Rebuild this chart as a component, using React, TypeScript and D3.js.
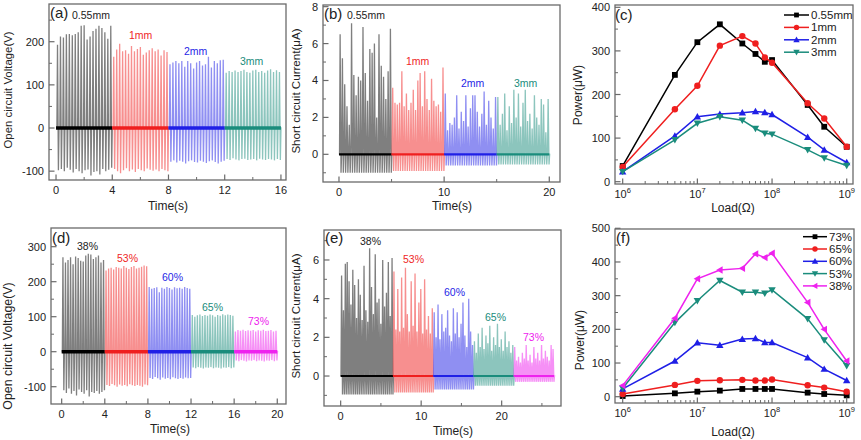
import React from "react";
import * as d3 from "d3";

const FONT = "'Liberation Sans', Arial, Helvetica, sans-serif";

// ---------- gap thickness series: (a) Voc, (b) Isc, (c) power ----------
const gapLabels = ["0.55mm", "1mm", "2mm", "3mm"];
const gapColors = ["#000000", "#ef1f1f", "#1f1fe6", "#1a8c7c"];

const gapVocSpans = [[0, 4], [4, 8], [8, 12], [12, 16]];
const gapVocPeaks = [
  [193, 212, 210, 217, 218, 215, 218, 222, 237, 238, 205, 212, 225, 230, 237, 232, 222, 207, 237],
  [165, 182, 195, 178, 180, 172, 190, 178, 183, 188, 170, 175, 180, 185, 178, 182, 168, 180, 176],
  [148, 152, 155, 150, 155, 142, 155, 150, 138, 152, 155, 145, 148, 165, 140, 155, 150, 157, 158],
  [128, 132, 130, 133, 130, 132, 135, 130, 128, 133, 135, 130, 132, 128, 133, 136, 130, 134, 130],
];
const gapVocTroughs = [
  [-98, -95, -100, -92, -97, -103, -95, -100, -105, -98, -96, -110, -102, -100, -108, -95, -100, -97, -92],
  [-95, -100, -105, -98, -93, -100, -96, -102, -95, -98, -100, -94, -97, -99, -96, -100, -95, -98, -100],
  [-78, -75, -80, -76, -78, -82, -77, -75, -79, -80, -76, -78, -81, -77, -75, -79, -82, -78, -76],
  [-72, -74, -70, -73, -75, -72, -71, -74, -73, -72, -75, -71, -73, -74, -72, -73, -75, -72, -74],
];

const gapIscSpans = [[0, 5], [5, 10], [10, 15], [15, 20]];
const gapIscPeaks = [
  [6.5, 5.2, 3.8, 2.6, 1.6, 7.1, 4.3, 3.2, 4.2, 4.0, 6.9, 4.4, 2.9, 5.7, 5.5, 6.0, 2.0, 6.5, 4.8, 4.2, 3.0, 4.5, 6.8],
  [3.6, 2.8, 2.7, 2.8, 4.5, 2.6, 3.3, 2.4, 2.8, 3.5, 2.4, 4.0, 4.4, 2.6, 4.5, 3.0, 2.4, 4.1, 2.9, 2.6, 2.7, 2.3, 4.7],
  [3.3, 1.3, 1.7, 1.6, 2.0, 3.2, 1.4, 2.3, 1.8, 3.2, 1.5, 2.5, 3.2, 3.2, 2.3, 1.5, 2.2, 3.4, 1.6, 2.9, 2.0, 1.4, 3.1],
  [3.1, 1.6, 2.2, 3.3, 1.3, 2.6, 1.7, 3.5, 2.0, 3.3, 1.5, 2.8, 3.5, 1.8, 2.2, 1.4, 3.2, 2.0, 1.6, 3.0, 2.7, 1.2, 3.0],
];
const gapIscTroughs = [-1.0, -0.9, -0.6, -0.55];

const loads = [1e6, 5e6, 1e7, 2e7, 4e7, 6e7, 8e7, 1e8, 3e8, 5e8, 1e9];
const gapPower = [
  [36, 245, 320, 361, 317, 293, 275, 279, 176, 126, 80],
  [34, 166, 220, 312, 334, 317, 285, 273, 180, 145, 80],
  [23, 105, 149, 155, 158, 161, 159, 154, 102, 73, 44],
  [23, 96, 134, 149, 141, 122, 111, 109, 73, 54, 37],
];
const gapMarkers = ["square", "circle", "up", "down"];

// ---------- porosity series: (d) Voc, (e) Isc ----------
const porLabels = ["38%", "53%", "60%", "65%", "73%"];
const porColors = ["#000000", "#ef1f1f", "#1f1fe6", "#1a8c7c", "#ee22ee"];

const porVocSpans = [[0, 4], [4, 8], [8, 12], [12, 16], [16, 20]];
const porVocPeaks = [
  [270, 255, 262, 270, 250, 272, 268, 260, 258, 275, 280, 278, 265, 270, 275, 255, 262],
  [232, 238, 240, 235, 242, 240, 238, 245, 240, 236, 242, 245, 238, 240, 243, 246, 244],
  [185, 180, 182, 184, 170, 183, 180, 185, 182, 178, 184, 181, 183, 180, 185, 182, 180],
  [105, 100, 104, 106, 102, 105, 103, 106, 104, 100, 105, 103, 107, 104, 106, 105, 103],
  [58, 62, 60, 63, 59, 61, 60, 62, 58, 61, 60, 63, 59, 60, 62, 58, 60],
];
const porVocTroughs = [
  [-110, -118, -105, -120, -112, -125, -108, -115, -120, -110, -128, -115, -118, -112, -120, -115, -110],
  [-95, -98, -92, -96, -100, -94, -97, -95, -99, -93, -96, -98, -95, -97, -100, -94, -96],
  [-75, -78, -72, -76, -80, -74, -77, -75, -79, -73, -76, -78, -75, -77, -74, -76, -75],
  [-45, -47, -44, -46, -48, -45, -46, -44, -47, -45, -46, -48, -45, -46, -44, -47, -45],
  [-25, -27, -24, -26, -28, -25, -26, -24, -27, -25, -26, -28, -25, -26, -24, -27, -25],
];

const porIscSpans = [[0, 6.5], [6.5, 11.5], [11.5, 16.5], [16.5, 21.5], [21.5, 26.5]];
const porIscPeaks = [
  [5.2, 3.4, 5.8, 5.9, 4.9, 3.7, 5.5, 4.7, 3.0, 5.0, 4.2, 2.9, 5.7, 3.4, 2.8, 6.6, 4.6, 3.2, 6.3, 3.8, 4.0, 2.7, 6.0, 3.6, 4.3, 5.9, 3.1, 6.1],
  [5.4, 2.4, 4.5, 2.3, 5.1, 2.5, 5.6, 3.2, 2.3, 4.9, 2.6, 5.3, 2.3, 3.8, 4.5, 2.2, 5.0, 2.4, 3.1, 2.2, 3.5],
  [3.3, 2.0, 3.7, 1.9, 3.2, 2.3, 2.5, 3.4, 2.1, 1.8, 3.5, 2.2, 3.3, 2.0, 2.7, 3.8, 2.1, 1.5, 4.0, 2.3, 1.6],
  [1.8, 1.2, 2.2, 1.5, 2.5, 1.4, 2.1, 1.7, 2.6, 1.3, 2.0, 1.6, 2.7, 1.5, 1.9, 1.3, 2.3, 1.5, 1.8, 1.2, 1.6],
  [1.5, 0.8, 1.0, 0.7, 1.2, 0.9, 1.6, 0.8, 1.1, 0.7, 1.5, 0.9, 1.2, 0.8, 1.6, 0.9, 1.3, 1.0, 0.8, 1.6, 1.4],
];
const porIscTroughs = [-0.95, -0.85, -0.7, -0.5, -0.3];

// ---------- (f) power vs load, legend order ----------
const porPowerLabels = ["73%", "65%", "60%", "53%", "38%"];
const porPowerColors = ["#000000", "#ef1f1f", "#1f1fe6", "#1a8c7c", "#ee22ee"];
const porPowerMarkers = ["square", "circle", "up", "down", "left"];
const porPower = [
  [2, 10, 15, 18, 23, 23, 23, 23, 12, 8, 4],
  [8, 35, 47, 49, 50, 48, 48, 51, 34, 27, 15],
  [23, 106, 160, 153, 171, 173, 161, 161, 116, 82, 48],
  [25, 220, 285, 345, 310, 310, 307, 317, 231, 168, 92],
  [33, 233, 350, 376, 381, 424, 413, 426, 280, 200, 106],
];

type Scale = (v: number) => number;

const Marker = ({ kind, cx, cy, color, s = 2.9 }: { kind: string; cx: number; cy: number; color: string; s?: number }) => {
  if (kind === "square") return <rect x={cx - s} y={cy - s} width={2 * s} height={2 * s} fill={color} />;
  if (kind === "circle") return <circle cx={cx} cy={cy} r={s + 0.3} fill={color} />;
  const t = s + 0.8;
  const tri: Record<string, [number, number][]> = {
    up: [[0, -t], [t, t * 0.75], [-t, t * 0.75]],
    down: [[0, t], [t, -t * 0.75], [-t, -t * 0.75]],
    left: [[-t, 0], [t * 0.75, -t], [t * 0.75, t]],
  };
  const pts = tri[kind].map(([dx, dy]) => `${cx + dx},${cy + dy}`).join(" ");
  return <polygon points={pts} fill={color} />;
};

// frame + inward ticks on bottom and left, Origin style
const Axes = ({
  box, x, y, xMajor, xMinor, yMajor, yMinor, logX, xTitle, yTitle, xTitlePos, yTitlePos, yTitleSize,
}: any) => {
  const [x0, y0, x1, y1] = box;
  const tickFont = 11;
  return (
    <g fontFamily={FONT} fill="#222">
      <rect x={x0} y={y0} width={x1 - x0} height={y1 - y0} fill="none" stroke="#6a6a6a" strokeWidth={1.3} />
      {xMinor.map((v: number, i: number) => (
        <line key={"xm" + i} x1={x(v)} x2={x(v)} y1={y1} y2={y1 - 3} stroke="#6a6a6a" strokeWidth={1} />
      ))}
      {xMajor.map((v: number, i: number) => (
        <g key={"xM" + i}>
          <line x1={x(v)} x2={x(v)} y1={y1} y2={y1 - 5.5} stroke="#6a6a6a" strokeWidth={1.2} />
          {logX ? (
            <text x={x(v)} y={y1 + 14} textAnchor="middle" fontSize={tickFont}>
              10<tspan fontSize={7.5} dy={-5}>{Math.round(Math.log10(v))}</tspan>
            </text>
          ) : (
            <text x={x(v)} y={y1 + 14} textAnchor="middle" fontSize={tickFont}>{v}</text>
          )}
        </g>
      ))}
      {yMinor.map((v: number, i: number) => (
        <line key={"ym" + i} x1={x0} x2={x0 + 3} y1={y(v)} y2={y(v)} stroke="#6a6a6a" strokeWidth={1} />
      ))}
      {yMajor.map((v: number, i: number) => (
        <g key={"yM" + i}>
          <line x1={x0} x2={x0 + 5.5} y1={y(v)} y2={y(v)} stroke="#6a6a6a" strokeWidth={1.2} />
          <text x={x0 - 5} y={y(v) + 4} textAnchor="end" fontSize={tickFont}>{v}</text>
        </g>
      ))}
      <text x={xTitlePos[0]} y={xTitlePos[1]} textAnchor="middle" fontSize={12}>{xTitle}</text>
      <text
        transform={`translate(${yTitlePos[0]},${yTitlePos[1]}) rotate(-90)`}
        textAnchor="middle"
        dy="0.35em"
        fontSize={yTitleSize || 11.6}
      >
        {yTitle}
      </text>
    </g>
  );
};

// pulse train: baseline at 0, each pulse rises to its peak and swings to its trough
const pulsePath = (x: Scale, y: Scale, span: number[], peaks: number[], troughs: number[] | number) => {
  const [t0, t1] = span;
  const step = (t1 - t0) / peaks.length;
  const pts: [number, number][] = [[x(t0), y(0)]];
  peaks.forEach((p, i) => {
    const px = x(t0 + step * (i + 0.5));
    const lo = Array.isArray(troughs) ? troughs[i] : troughs;
    pts.push([px - 0.6, y(0)], [px, y(p)], [px + 0.9, y(lo)], [px + 1.5, y(0)]);
  });
  pts.push([x(t1), y(0)]);
  return d3.line()(pts) as string;
};

const PulsePanel = ({ x, y, spans, peaks, troughs, colors, bandWidth }: any) => (
  <g>
    {spans.map((span: number[], i: number) => (
      <g key={i}>
        <path
          d={pulsePath(x, y, span, peaks[i], troughs[i])}
          fill="none"
          stroke={colors[i]}
          strokeOpacity={0.5}
          strokeWidth={1.3}
        />
        <line x1={x(span[0])} x2={x(span[1])} y1={y(0)} y2={y(0)} stroke={colors[i]} strokeWidth={bandWidth} />
      </g>
    ))}
  </g>
);

const PowerPanel = ({ x, y, series, colors, markers }: any) => {
  const line = d3.line<number>().x((_, i) => x(loads[i])).y((d) => y(d));
  return (
    <g>
      {series.map((s: number[], i: number) => (
        <g key={i}>
          <path d={line(s) as string} fill="none" stroke={colors[i]} strokeWidth={1.5} />
          {s.map((v, j) => (
            <Marker key={j} kind={markers[i]} cx={x(loads[j])} cy={y(v)} color={colors[i]} />
          ))}
        </g>
      ))}
    </g>
  );
};

const Legend = ({ labels, colors, markers, lx0, lx1, ty0, step }: any) => (
  <g fontFamily={FONT} fontSize={11.5}>
    {labels.map((lab: string, i: number) => {
      const yy = ty0 + i * step;
      return (
        <g key={lab}>
          <line x1={lx0} x2={lx1} y1={yy} y2={yy} stroke={colors[i]} strokeWidth={1.5} />
          <Marker kind={markers[i]} cx={(lx0 + lx1) / 2} cy={yy} color={colors[i]} s={2.4} />
          <text x={lx1 + 2} y={yy + 4} fill="#222">{lab}</text>
        </g>
      );
    })}
  </g>
);

const range = (a: number, b: number, s: number) => d3.range(a, b + s / 2, s);

export default function App() {
  // (a)
  const boxA = [49, 4, 286, 180];
  const xA = d3.scaleLinear().domain([-0.5, 16.36]).range([boxA[0], boxA[2]]);
  const yA = d3.scaleLinear().domain([-120.5, 287.4]).range([boxA[3], boxA[1]]);
  // (b)
  const boxB = [323, 5, 560, 182];
  const xB = d3.scaleLinear().domain([-1.52, 21.02]).range([boxB[0], boxB[2]]);
  const yB = d3.scaleLinear().domain([-1.5, 8.09]).range([boxB[3], boxB[1]]);
  // (c)
  const boxC = [615, 5, 853, 184];
  const xC = d3.scaleLog().domain([10 ** 5.897, 10 ** 9.084]).range([boxC[0], boxC[2]]);
  const yC = d3.scaleLinear().domain([-5.3, 405.3]).range([boxC[3], boxC[1]]);
  // (d)
  const boxD = [51, 228, 286, 404];
  const xD = d3.scaleLinear().domain([-0.99, 20.81]).range([boxD[0], boxD[2]]);
  const yD = d3.scaleLinear().domain([-149.4, 353.4]).range([boxD[3], boxD[1]]);
  // (e)
  const boxE = [324, 230, 561, 406];
  const xE = d3.scaleLinear().domain([-2.07, 27.37]).range([boxE[0], boxE[2]]);
  const yE = d3.scaleLinear().domain([-1.55, 7.55]).range([boxE[3], boxE[1]]);
  // (f)
  const boxF = [615, 229, 854, 403];
  const xF = d3.scaleLog().domain([10 ** 5.897, 10 ** 9.098]).range([boxF[0], boxF[2]]);
  const yF = d3.scaleLinear().domain([-18.7, 497.9]).range([boxF[3], boxF[1]]);

  const decades = [1e6, 1e7, 1e8, 1e9];
  const logMinor = xC.ticks().filter((v) => v >= 1e6 && v <= 1e9 && !decades.includes(v));

  return (
    <div style={{ position: "absolute", left: 0, top: 0 }}>
      <svg width={861} height={440} style={{ display: "block", background: "#fff" }}>
        {/* (a) open circuit voltage, gap thickness */}
        <PulsePanel x={xA} y={yA} spans={gapVocSpans} peaks={gapVocPeaks} troughs={gapVocTroughs} colors={gapColors} bandWidth={3.5} />
        <Axes
          box={boxA} x={xA} y={yA}
          xMajor={range(0, 16, 4)} xMinor={range(2, 14, 4)}
          yMajor={range(-100, 200, 100)} yMinor={range(-50, 250, 100)}
          xTitle="Time(s)" yTitle="Open circuit Voltage(V)"
          xTitlePos={[168, 210]} yTitlePos={[7.5, 90]} yTitleSize={11.4}
        />
        {/* (b) short circuit current, gap thickness */}
        <PulsePanel x={xB} y={yB} spans={gapIscSpans} peaks={gapIscPeaks} troughs={gapIscTroughs} colors={gapColors} bandWidth={2.2} />
        <Axes
          box={boxB} x={xB} y={yB}
          xMajor={range(0, 20, 10)} xMinor={[5, 15]}
          yMajor={range(0, 8, 2)} yMinor={range(-1, 7, 2)}
          xTitle="Time(s)" yTitle="Short circuit Current(μA)"
          xTitlePos={[452, 210]} yTitlePos={[296, 91]}
        />
        {/* (c) power vs load, gap thickness */}
        <PowerPanel x={xC} y={yC} series={gapPower} colors={gapColors} markers={gapMarkers} />
        <Axes
          box={boxC} x={xC} y={yC} logX
          xMajor={decades} xMinor={logMinor}
          yMajor={range(0, 400, 100)} yMinor={range(50, 350, 100)}
          xTitle="Load(Ω)" yTitle="Power(μW)"
          xTitlePos={[733, 212]} yTitlePos={[578, 95]} yTitleSize={12}
        />
        <Legend labels={gapLabels} colors={gapColors} markers={gapMarkers} lx0={784} lx1={809} ty0={15} step={12.4} />

        {/* (d) open circuit voltage, porosity */}
        <PulsePanel x={xD} y={yD} spans={porVocSpans} peaks={porVocPeaks} troughs={porVocTroughs} colors={porColors} bandWidth={3.5} />
        <Axes
          box={boxD} x={xD} y={yD}
          xMajor={range(0, 20, 4)} xMinor={range(2, 18, 4)}
          yMajor={range(-100, 300, 100)} yMinor={range(-50, 250, 100)}
          xTitle="Time(s)" yTitle="Open circuit Voltage(V)"
          xTitlePos={[170, 433]} yTitlePos={[8, 346]} yTitleSize={12.4}
        />
        {/* (e) short circuit current, porosity */}
        <PulsePanel x={xE} y={yE} spans={porIscSpans} peaks={porIscPeaks} troughs={porIscTroughs} colors={porColors} bandWidth={2.2} />
        <Axes
          box={boxE} x={xE} y={yE}
          xMajor={range(0, 20, 10)} xMinor={[5, 15, 25]}
          yMajor={range(0, 6, 2)} yMinor={range(-1, 7, 2)}
          xTitle="Time(s)" yTitle="Short circuit Current(μA)"
          xTitlePos={[453, 435]} yTitlePos={[296, 316]}
        />
        {/* (f) power vs load, porosity */}
        <PowerPanel x={xF} y={yF} series={porPower} colors={porPowerColors} markers={porPowerMarkers} />
        <Axes
          box={boxF} x={xF} y={yF} logX
          xMajor={decades} xMinor={logMinor}
          yMajor={range(0, 500, 100)} yMinor={range(50, 450, 100)}
          xTitle="Load(Ω)" yTitle="Power(μW)"
          xTitlePos={[733, 436]} yTitlePos={[580, 340]} yTitleSize={12}
        />
        <Legend labels={porPowerLabels} colors={porPowerColors} markers={porPowerMarkers} lx0={803} lx1={827} ty0={236.7} step={12.3} />

        {/* panel tags and series annotations */}
        <g fontFamily={FONT}>
          <text x={50} y={18} fontSize={15} fill="#222">(a)</text>
          <text x={324} y={19} fontSize={15} fill="#222">(b)</text>
          <text x={615} y={20} fontSize={15} fill="#222">(c)</text>
          <text x={52} y={243} fontSize={15} fill="#222">(d)</text>
          <text x={325} y={243} fontSize={15} fill="#222">(e)</text>
          <text x={616} y={243} fontSize={15} fill="#222">(f)</text>

          {gapLabels.map((lab, i) => (
            <text key={"ga" + i} x={[72, 129, 184, 240][i]} y={[19, 39, 55, 65][i]} fontSize={10.5}
              fill={i === 0 ? "#222" : gapColors[i]}>{lab}</text>
          ))}
          {gapLabels.map((lab, i) => (
            <text key={"gb" + i} x={[347, 406, 461, 514][i]} y={[19, 65, 87, 87][i]} fontSize={10.5}
              fill={i === 0 ? "#222" : gapColors[i]}>{lab}</text>
          ))}
          {porLabels.map((lab, i) => (
            <text key={"pd" + i} x={[77, 117, 162, 202, 248][i]} y={[250, 262, 281, 311, 325][i]} fontSize={10.5}
              fill={i === 0 ? "#222" : porColors[i]}>{lab}</text>
          ))}
          {porLabels.map((lab, i) => (
            <text key={"pe" + i} x={[360, 403, 444, 485, 523][i]} y={[245, 263, 296, 321, 341][i]} fontSize={10.5}
              fill={i === 0 ? "#222" : porColors[i]}>{lab}</text>
          ))}
        </g>
      </svg>
    </div>
  );
}
